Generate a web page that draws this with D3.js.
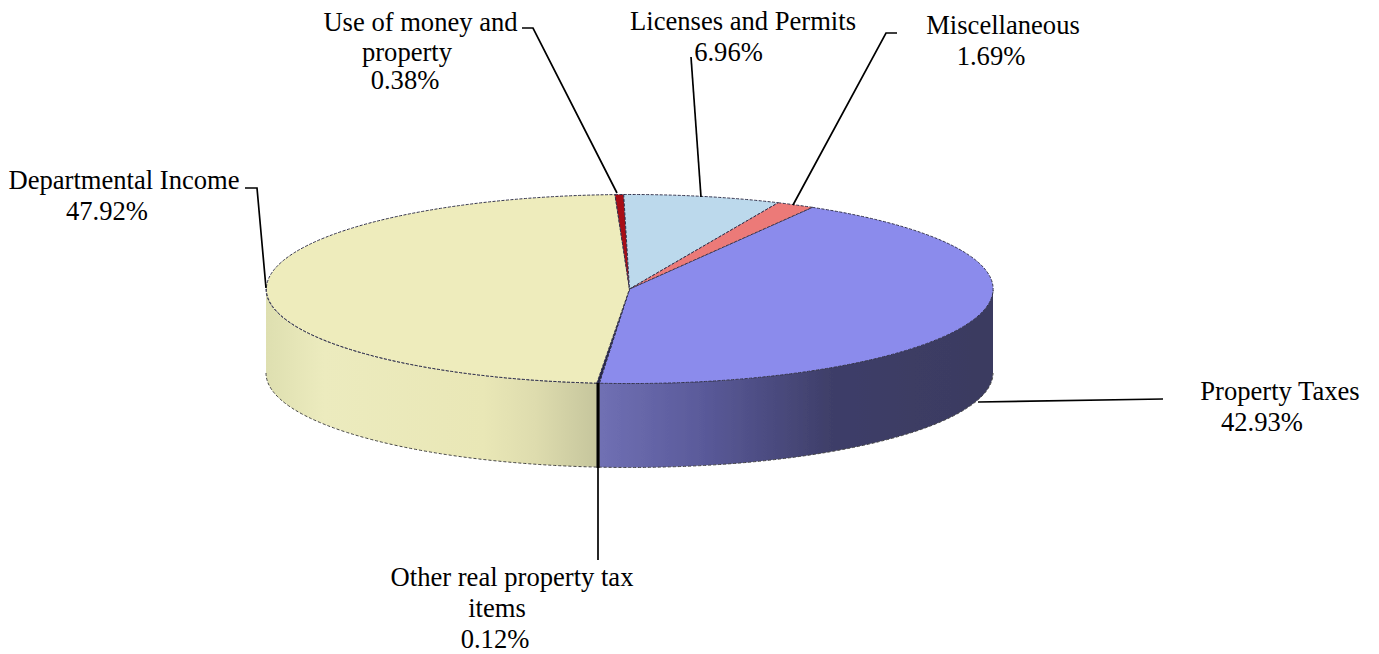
<!DOCTYPE html>
<html>
<head>
    <title>revenue pie</title>
    <script src="https://d3js.org/d3.v7.min.js"></script>
    <style>
        body { margin: 0; background: #fff; }
        text { font-family: "Liberation Serif"; font-size: 26.6px; fill: #000; }
    </style>
</head>
<body>
    <svg id="mainsvg" width="1379" height="654"></svg>
    <script>
        // clockwise from the property taxes slice, which starts about 30 deg past 12 o'clock
        const categories = ['Property Taxes', 'Other real property tax items', 'Departmental Income', 'Use of money and property', 'Licenses and Permits', 'Miscellaneous'];
        const shares = [42.93, 0.12, 47.92, 0.38, 6.96, 1.69];
        const topColors = ['#8b8bec', '#23234a', '#eeecbc', '#a80f14', '#bcd9ec', '#ec7a78'];
        const labelLines = [['Property Taxes', '42.93%'], ['Other real property tax', 'items', '0.12%'], ['Departmental Income', '47.92%'], ['Use of money and', 'property', '0.38%'], ['Licenses and Permits', '6.96%'], ['Miscellaneous', '1.69%']];
        // each line has its own centre, the lines do not share one in the original
        const labelX = [[1280, 1262], [512, 497, 495], [124, 107], [420.5, 407, 405], [743, 728.5], [1003, 991]];
        const labelY = [[400, 431], [586, 617, 648], [189, 220], [31, 61, 89], [30, 61], [34, 65]];
        const leaders = [
            [[1163, 399], [978, 402]],
            [[598, 468], [598, 560]],
            [[245, 188], [257, 188], [266, 288]],
            [[522, 28], [533, 28], [617, 193]],
            [[691, 57], [701, 197]],
            [[897, 33], [886, 33], [793, 205]]
        ];

        const svg = d3.select('#mainsvg');
        const cx = 629.5, cy = 289, rx = 363.5, ry = 94.5, depth = 84;
        const startAngle = 30.2 * Math.PI / 180;

        const pie = d3.pie().sort(null).startAngle(startAngle).endAngle(startAngle + 2 * Math.PI);
        const slices = pie(shares);
        const x = d3.scaleLinear().domain([-1, 1]).range([cx - rx, cx + rx]);
        const y = d3.scaleLinear().domain([-1, 1]).range([cy - ry, cy + ry]);

        // side wall, only the part of the slice facing the viewer (90 to 270 deg)
        function wall(d) {
            const a0 = Math.max(d.startAngle, Math.PI / 2), a1 = Math.min(d.endAngle, 3 * Math.PI / 2);
            if (a1 <= a0) return null;
            const px = a => x(Math.sin(a)), py = a => y(-Math.cos(a));
            return `M${px(a0)},${py(a0)}A${rx},${ry} 0 0 1 ${px(a1)},${py(a1)}`
                + `L${px(a1)},${py(a1) + depth}A${rx},${ry} 0 0 0 ${px(a0)},${py(a0) + depth}Z`;
        }

        const defs = svg.append('defs');
        function gradient(id, stops) {
            const g = defs.append('linearGradient').attr('id', id).attr('gradientUnits', 'userSpaceOnUse')
                .attr('x1', x(-1)).attr('x2', x(1)).attr('y1', 0).attr('y2', 0);
            stops.forEach(s => g.append('stop').attr('offset', s[0]).attr('stop-color', s[1]));
        }
        gradient('wallBlue', [[0.457, '#7070b4'], [0.6, '#5a5a9a'], [0.78, '#3e3e68'], [1, '#3a3a60']]);
        gradient('wallYellow', [[0, '#dedfb0'], [0.08, '#ecebbe'], [0.3, '#e9e7b6'], [0.37, '#dedcae'], [0.457, '#c5c59c']]);
        const wallFills = ['url(#wallBlue)', '#000', 'url(#wallYellow)', '#700', '#88a', '#a55'];

        // the source is a soft jpeg, so take the hard edge off the pie
        defs.append('filter').attr('id', 'soft').append('feGaussianBlur').attr('stdDeviation', 0.4);
        const pieGroup = svg.append('g').attr('filter', 'url(#soft)');

        pieGroup.append('g').selectAll('path').data(slices).join('path')
            .attr('d', wall)
            .attr('fill', (d, i) => wallFills[i]);

        // seam between the top face and the wall
        pieGroup.append('path')
            .attr('d', `M${x(-1)},${cy}A${rx},${ry} 0 0 0 ${x(1)},${cy}`)
            .attr('fill', 'none').attr('stroke', '#3a3a50').attr('stroke-width', 1).attr('stroke-dasharray', '3 1.5');

        // bottom rim
        pieGroup.append('path')
            .attr('d', `M${x(-1)},${cy + depth}A${rx},${ry} 0 0 0 ${x(1)},${cy + depth}`)
            .attr('fill', 'none').attr('stroke', '#444').attr('stroke-width', 1).attr('stroke-dasharray', '3 2');

        const arc = d3.arc().innerRadius(0).outerRadius(1);
        pieGroup.append('g')
            .attr('transform', `translate(${cx},${cy}) scale(${rx},${ry})`)
            .selectAll('path').data(slices).join('path')
            .attr('d', arc)
            .attr('fill', (d, i) => topColors[i])
            .attr('stroke', '#33334d')
            .attr('stroke-width', 1)
            .attr('stroke-dasharray', '3 1.5')
            .attr('vector-effect', 'non-scaling-stroke');

        // thick dark edge where the small slice runs down the wall
        pieGroup.append('line')
            .attr('x1', 598).attr('x2', 598).attr('y1', 383).attr('y2', 468)
            .attr('stroke', '#000').attr('stroke-width', 3);

        const line = d3.line();
        svg.append('g').selectAll('path').data(leaders).join('path')
            .attr('d', line)
            .attr('fill', 'none').attr('stroke', '#000').attr('stroke-width', 1.7);

        svg.append('g').selectAll('text').data(labelLines).join('text')
            .attr('text-anchor', 'middle')
            .each(function (d, i) {
                d3.select(this).selectAll('tspan').data(d).join('tspan')
                    .attr('x', (t, j) => labelX[i][j])
                    .attr('y', (t, j) => labelY[i][j])
                    .text(t => t);
            });
    </script>
</body>
</html>
